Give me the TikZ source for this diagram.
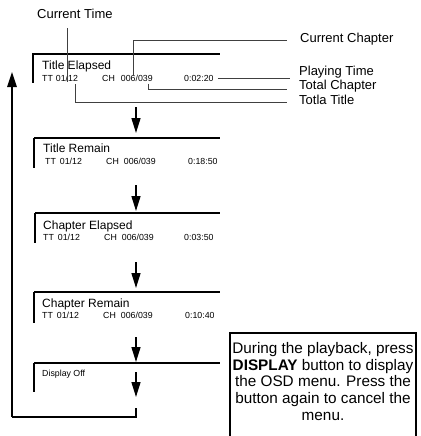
\documentclass[tikz,border=0pt]{standalone}
\usepackage{fontspec}
\setmainfont{Liberation Sans}
\usetikzlibrary{arrows.meta}
\begin{document}
\begin{tikzpicture}[x=1pt,y=-1pt,
  lbl/.style={anchor=base west,inner sep=0pt,font=\fontsize{13}{15}\selectfont},
  heading/.style={anchor=base west,inner sep=0pt,font=\fontsize{12}{14}\selectfont},
  rowt/.style={anchor=base west,inner sep=0pt,font=\fontsize{8.8}{10}\selectfont},
  topline/.style={line width=2pt},
  sideline/.style={line width=1.4pt},
  leader/.style={line width=0.7pt,black!75},
  flow/.style={line width=1.5pt,-{Triangle[length=15pt,width=9pt]}},
  loopline/.style={line width=1.6pt},
  info/.style={anchor=north,inner sep=0pt,align=center,font=\fontsize{15.3}{16.7}\selectfont},
]
\useasboundingbox (0,0) rectangle (420,436);

% ---- box 1: Title Elapsed
\draw[topline] (33,54) -- (220,54);
\draw[sideline] (33,53.5) -- (33,83);
\node[heading] (h1) at (42,70) {Title Elapsed};
\node[rowt] (r1a) at (42,81.5) {TT\hspace{3pt}01/12};
\node[rowt] (r1b) at (102,81.5) {CH\hspace{6pt}006/039};
\node[rowt] (r1c) at (184,81.5) {0:02:20};

% ---- box 2: Title Remain
\draw[topline] (34,138) -- (220,138);
\draw[sideline] (34,137.5) -- (34,168);
\node[heading] (h2) at (43,152.5) {Title Remain};
\node[rowt] (r2a) at (45,164.5) {TT\hspace{4pt}01/12};
\node[rowt] (r2b) at (106,164.5) {CH\hspace{5pt}006/039};
\node[rowt] (r2c) at (188,164.5) {0:18:50};

% ---- box 3: Chapter Elapsed
\draw[topline] (35,213) -- (220,213);
\draw[sideline] (35,212.5) -- (35,243);
\node[heading] (h3) at (43,229.5) {Chapter Elapsed};
\node[rowt] (r3a) at (43,240.5) {TT\hspace{4pt}01/12};
\node[rowt] (r3b) at (104,240.5) {CH\hspace{5pt}006/039};
\node[rowt] (r3c) at (184,240.5) {0:03:50};

% ---- box 4: Chapter Remain
\draw[topline] (34,292) -- (220,292);
\draw[sideline] (34,291.5) -- (34,323);
\node[heading] (h4) at (42,307.5) {Chapter Remain};
\node[rowt] (r4a) at (42,318.5) {TT\hspace{4pt}01/12};
\node[rowt] (r4b) at (103,318.5) {CH\hspace{5pt}006/039};
\node[rowt] (r4c) at (185,318.5) {0:10:40};

% ---- box 5: Display Off
\draw[topline] (34,363) -- (220,363);
\draw[sideline] (34,362.5) -- (34,392);
\node[rowt] (h5) at (42,376) {Display Off};

% ---- flow arrows
\coordinate (a1s) at (136,107); \coordinate (a1e) at (136,133);
\coordinate (a2s) at (136,185); \coordinate (a2e) at (136,211);
\coordinate (a3s) at (136,262); \coordinate (a3e) at (136,288);
\coordinate (a4s) at (136,337); \coordinate (a4e) at (136,362);
\coordinate (a5s) at (136,372); \coordinate (a5e) at (136,397);
\draw[flow] (a1s) -- (a1e);
\draw[flow] (a2s) -- (a2e);
\draw[flow] (a3s) -- (a3e);
\draw[flow] (a4s) -- (a4e);
\draw[flow] (a5s) -- (a5e);

% ---- return loop
\coordinate (lpA) at (136,408);
\coordinate (lpB) at (12,417);
\coordinate (lpC) at (12,72);
\draw[loopline] (lpA) |- (lpB);
\draw[loopline,-{Triangle[length=15pt,width=9.5pt]}] (lpB) -- (lpC);

% ---- labels and leaders
\node[lbl] (curtime) at (37,18.7) {Current Time};
\node[lbl] (curchap) at (300,42) {Current Chapter};
\node[lbl] (playing) at (299,75) {Playing Time};
\node[lbl] (totchap) at (299,89.5) {Total Chapter};
\node[lbl] (tottitle) at (299,104.5) {Totla Title};

\coordinate (ctEnd) at (67,82);
\draw[leader,shorten <=9pt] (curtime.south -| ctEnd) -- (ctEnd);

\coordinate (ccEnd) at (133,76);
\coordinate (ccLbl) at (287,40);
\draw[leader] (ccEnd) |- (ccLbl);

\draw[leader] ([xshift=4pt]r1c.east) -- ([xshift=-9pt]playing.west |- r1c.east);

\coordinate (tcEnd) at (148,83.5);
\coordinate (tcLbl) at (287,89);
\draw[leader] (tcEnd) |- (tcLbl);

\coordinate (ttEnd) at (75,84);
\coordinate (ttLbl) at (287,102);
\draw[leader] (ttEnd) |- (ttLbl);

% ---- info box
\draw[line width=1.3pt] (230,440) -- (230,333) -- (416,333) -- (416,440);
\node[info] (note) at (323,342.3) {During the playback, press\\\textbf{DISPLAY} button to display\\the OSD menu. Press the\\button again to cancel the\\menu.};
\end{tikzpicture}
\end{document}
